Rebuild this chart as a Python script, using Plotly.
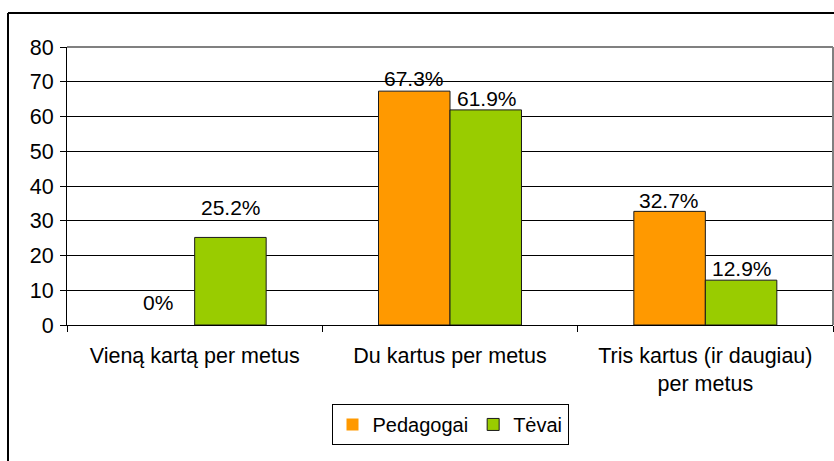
import plotly.graph_objects as go

categories = ["Vieną kartą per metus", "Du kartus per metus", "Tris kartus (ir daugiau)<br>per metus"]
pedagogai = [0, 67.3, 32.7]
tevai = [25.2, 61.9, 12.9]
series_names = ["Pedagogai", "Tėvai"]
y_ticks = [0, 10, 20, 30, 40, 50, 60, 70, 80]

FONT = "Arial, Liberation Sans, sans-serif"
colors = ["#FF9900", "#99CC00"]

fig = go.Figure()
for name, vals, col in zip(series_names, [pedagogai, tevai], colors):
    fig.add_trace(go.Bar(
        x=categories, y=vals, name=name,
        marker=dict(color=col, line=dict(color="#1a1a1a", width=[0 if v == 0 else 1 for v in vals])),
    ))

# data labels (pixel offsets above bar tops)
label_shift = {("Pedagogai", 0): 23, ("Tėvai", 0): 30,
               ("Pedagogai", 1): 13, ("Tėvai", 1): 11,
               ("Pedagogai", 2): 11, ("Tėvai", 2): 12}
bar_px = 36.5
for si, (name, vals) in enumerate(zip(series_names, [pedagogai, tevai])):
    for ci, v in enumerate(vals):
        fig.add_annotation(
            x=categories[ci], y=v, xref="x", yref="y",
            text=f"{v:g}%", showarrow=False,
            xshift=(-bar_px if si == 0 else bar_px),
            yshift=label_shift[(name, ci)], yanchor="middle",
            font=dict(family=FONT, size=21, color="black"),
        )

fig.update_layout(
    width=834, height=461,
    margin=dict(l=67, r=1, t=47, b=136),
    paper_bgcolor="white", plot_bgcolor="white",
    barmode="group", bargap=0.44, bargroupgap=0,
    font=dict(family=FONT, size=20, color="black"),
    showlegend=True,
    legend=dict(orientation="h", x=0.5, xanchor="center", y=-0.284, yanchor="top",
                bordercolor="black", borderwidth=1, font=dict(size=20),
                itemclick=False),
)
fig.update_xaxes(
    showline=True, linecolor="black", linewidth=1,
    ticks="outside", tickson="boundaries", ticklen=6, tickcolor="black",
    showgrid=False, tickfont=dict(size=21.5), fixedrange=True,
    ticklabelstandoff=11,
)
fig.update_yaxes(
    range=[0, 80], tickvals=y_ticks, showline=True, linecolor="black", linewidth=1,
    ticks="outside", ticklen=6, tickcolor="black",
    showgrid=True, gridcolor="black", gridwidth=1, zeroline=False,
    tickfont=dict(size=21.5), fixedrange=True, ticklabelstandoff=2,
)
# plot-area border (top / right) in gray
fig.add_shape(type="line", xref="paper", yref="paper", x0=0, x1=1, y0=1, y1=1,
              line=dict(color="#808080", width=2))
fig.add_shape(type="line", xref="paper", yref="paper", x0=1, x1=1, y0=0, y1=1,
              line=dict(color="#808080", width=2))
# outer chart frame (left / top)
fx = (8 - 67) / 766
fy = 1 + (47 - 13) / 278
fig.add_shape(type="line", xref="paper", yref="paper", x0=fx, x1=fx, y0=-0.6, y1=fy,
              line=dict(color="black", width=2))
fig.add_shape(type="line", xref="paper", yref="paper", x0=fx, x1=1.1, y0=fy, y1=fy,
              line=dict(color="black", width=2))

fig.write_html("out.html", config={"displayModeBar": False},
               post_script="document.body.style.margin='0px';")
